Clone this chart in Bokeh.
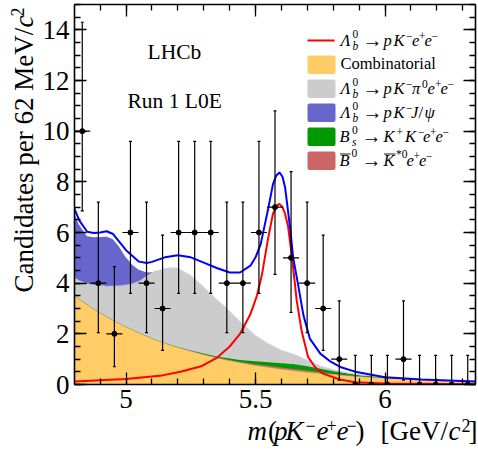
from math import pi

from bokeh.embed import file_html
from bokeh.models import Label, LinearAxis, Range1d, SingleIntervalTicker
from bokeh.plotting import figure
from bokeh.resources import INLINE

# data points, one per 62 MeV bin
bin_centres = [4.831, 4.893, 4.955, 5.017, 5.079, 5.141, 5.203, 5.265, 5.327, 5.389, 5.451, 5.513, 5.575,
               5.637, 5.699, 5.761, 5.823, 5.885, 5.947, 6.009, 6.071, 6.133, 6.195, 6.257, 6.319]
counts = [10, 4, 2, 6, 4, 3, 6, 6, 6, 4, 4, 6, 7, 5, 4, 3, 1, 0, 0, 0, 1, 0, 0, 0, 0]
err_low = {0: 0, 1: 0.83, 2: 1.3, 3: 1.65, 4: 1.95, 5: 2.15, 6: 2.4, 7: 2.65, 10: 3.15}
err_high = {0: 1.15, 1: 2.3, 2: 2.65, 3: 2.9, 4: 3.2, 5: 3.4, 6: 3.6, 7: 3.8, 10: 4.3}
bin_half = 0.031

# stacked components, cumulative tops
mass = [4.80, 4.82, 4.85, 4.875, 4.90, 4.925, 4.95, 4.975, 5.00, 5.025, 5.05, 5.08, 5.10, 5.125, 5.15, 5.175,
        5.20, 5.25, 5.30, 5.35, 5.40, 5.44, 5.50, 5.55, 5.60, 5.65, 5.70, 5.75, 5.80, 5.85, 5.90, 5.95, 6.00,
        6.10, 6.20, 6.35]
comb_top = [3.50, 3.36, 3.15, 2.98, 2.82, 2.67, 2.53, 2.40, 2.27, 2.15, 2.03, 1.90, 1.82, 1.72, 1.63, 1.54,
            1.46, 1.31, 1.17, 1.05, 0.94, 0.86, 0.75, 0.68, 0.60, 0.54, 0.48, 0.43, 0.39, 0.35, 0.31, 0.28, 0.25,
            0.20, 0.16, 0.12]
bd_top = [3.50, 3.36, 3.15, 2.98, 2.82, 2.67, 2.53, 2.40, 2.27, 2.15, 2.03, 1.90, 1.82, 1.72, 1.63, 1.54,
          1.465, 1.32, 1.19, 1.07, 0.97, 0.89, 0.80, 0.74, 0.67, 0.61, 0.55, 0.48, 0.42, 0.37, 0.32, 0.285, 0.25,
          0.20, 0.16, 0.12]
bs_top = [3.51, 3.37, 3.16, 2.99, 2.83, 2.68, 2.54, 2.41, 2.28, 2.16, 2.04, 1.91, 1.83, 1.73, 1.64, 1.56,
          1.48, 1.34, 1.22, 1.11, 1.03, 0.97, 0.92, 0.88, 0.84, 0.80, 0.72, 0.62, 0.52, 0.44, 0.37, 0.33, 0.28,
          0.21, 0.165, 0.12]
pi0_top = [4.23, 4.10, 3.98, 3.93, 3.92, 3.88, 3.89, 3.90, 3.93, 3.98, 4.08, 4.28, 4.42, 4.50, 4.57, 4.61,
           4.58, 4.30, 3.85, 3.35, 2.90, 2.48, 1.93, 1.60, 1.34, 1.18, 0.95, 0.72, 0.58, 0.47, 0.39, 0.34, 0.29,
           0.215, 0.17, 0.12]
jpsi_top = [6.83, 6.33, 5.88, 5.84, 5.85, 5.87, 5.76, 5.45, 5.05, 4.75, 4.55, 4.45, 4.46, 4.51, 4.58, 4.62,
            4.59, 4.31, 3.86, 3.36, 2.91, 2.49, 1.94, 1.61, 1.35, 1.19, 0.96, 0.73, 0.59, 0.48, 0.40, 0.35, 0.30,
            0.22, 0.175, 0.12]

# total fit and signal, as lines
total_mass = [4.80, 4.82, 4.85, 4.875, 4.90, 4.925, 4.95, 5.00, 5.05, 5.08, 5.10, 5.15, 5.20, 5.25, 5.30, 5.35,
              5.40, 5.44, 5.48, 5.50, 5.52, 5.55, 5.567, 5.58, 5.592, 5.604, 5.614, 5.633, 5.645, 5.66, 5.685,
              5.71, 5.75, 5.79, 5.83, 5.89, 6.00, 6.14, 6.35]
total_fit = [6.95, 6.47, 6.03, 5.98, 6.00, 6.05, 5.94, 5.30, 4.85, 4.80, 4.84, 5.02, 5.10, 5.02, 4.81, 4.60,
             4.42, 4.42, 4.69, 5.02, 5.55, 7.00, 7.90, 8.25, 8.37, 8.20, 7.78, 6.20, 5.02, 4.18, 2.72,
             1.80, 1.22, 0.90, 0.68, 0.49, 0.29, 0.20, 0.12]
signal_mass = [4.80, 5.00, 5.14, 5.21, 5.29, 5.35, 5.40, 5.44, 5.479, 5.505, 5.524, 5.548, 5.567, 5.58, 5.592,
               5.604, 5.614, 5.625, 5.64, 5.659, 5.678, 5.703, 5.73, 5.76, 5.826, 5.884, 6.00, 6.35]
signal = [0.12, 0.22, 0.36, 0.50, 0.72, 1.05, 1.50, 2.00, 2.75, 3.50, 4.30, 5.75, 6.73, 7.05, 7.13,
          7.00, 6.73, 6.27, 5.08, 3.30, 2.10, 1.08, 0.68, 0.43, 0.20, 0.09, 0.04, 0.01]

y_ticks_step = 2
x_ticks_step = 0.5

ORANGE = "#FFCC66"
GREY = "#CCCCCC"
BLUE = "#6666CC"
GREEN = "#009900"
PINK = "#CC6666"
FONT = "Liberation Serif"

LEFT, RIGHT, TOP, BOTTOM = 74, 475, 4, 384
x_min, x_max = 4.801, 6.349
y_min, y_max = 0, 15


def data_x(px):
    return x_min + (px - LEFT) * (x_max - x_min) / (RIGHT - LEFT)


def data_y(py):
    return y_max - (py - TOP) * (y_max - y_min) / (BOTTOM - TOP)


p = figure(width=478, height=450, output_backend="svg", toolbar_location=None,
           x_range=Range1d(x_min, x_max), y_range=Range1d(y_min, y_max), x_axis_type=None, y_axis_type=None,
           min_border_left=LEFT, min_border_right=478 - RIGHT, min_border_top=TOP, min_border_bottom=450 - BOTTOM,
           frame_width=RIGHT - LEFT, frame_height=BOTTOM - TOP, outline_line_color=None)
p.grid.visible = False


def make_axis(cls_place, step, minor, labels):
    axis = LinearAxis(ticker=SingleIntervalTicker(interval=step, num_minor_ticks=minor))
    axis.axis_line_color = "black"
    axis.axis_line_width = 1.6
    axis.major_tick_line_width = 1.3
    axis.minor_tick_line_width = 1.3
    axis.major_tick_in = 12
    axis.major_tick_out = 0
    axis.minor_tick_in = 6
    axis.minor_tick_out = 0
    axis.major_label_text_font = FONT
    axis.major_label_text_font_size = "27px"
    axis.major_label_text_color = "black"
    axis.major_label_standoff = 5
    if not labels:
        axis.major_label_text_font_size = "0px"
        axis.major_label_text_color = None
    p.add_layout(axis, cls_place)


make_axis("below", x_ticks_step, 5, True)
make_axis("above", x_ticks_step, 5, False)
make_axis("left", y_ticks_step, 4, True)
make_axis("right", y_ticks_step, 4, False)

# stack, back to front
p.varea(mass, 0, jpsi_top, fill_color=BLUE)
p.varea(mass, 0, pi0_top, fill_color=GREY)
p.varea(mass, 0, bs_top, fill_color=GREEN)
p.varea(mass, 0, bd_top, fill_color=PINK)
p.varea(mass, 0, comb_top, fill_color=ORANGE)
p.line(mass, jpsi_top, line_color="white", line_width=1.3)
p.line(mass, pi0_top, line_color="#B4B4DC", line_width=0.7)
p.line(mass, comb_top, line_color="#AAAA77", line_width=0.5)

p.line(signal_mass, signal, line_color="#FF0000", line_width=2)
p.line(total_mass, total_fit, line_color="#0000FF", line_width=2)

# data with errors
lows = [c - err_low[c] for c in counts]
highs = [c + err_high[c] for c in counts]
p.segment(bin_centres, lows, bin_centres, highs, line_color="black", line_width=1.2)
p.segment([b - bin_half for b in bin_centres], counts, [b + bin_half for b in bin_centres], counts,
          line_color="black", line_width=1.2)
p.scatter(bin_centres, highs, marker="dash", size=3, line_color="black", line_width=1.2)
p.scatter(bin_centres, lows, marker="dash", size=3, line_color="black", line_width=1.2)
p.scatter(bin_centres, counts, size=5, fill_color="black", line_color="black")

BASE_SHIFT = 0.36  # Label puts an alphabetic baseline this many ems too low


def put(px, py, text, size, style="normal", angle=0, side="center"):
    if angle:
        px -= BASE_SHIFT * size
    else:
        py -= BASE_SHIFT * size
    p.add_layout(Label(x=data_x(px), y=data_y(py), text=text, text_font=FONT, text_font_size=f"{size}px",
                       text_font_style=style, text_color="black", text_baseline="alphabetic", text_align="left",
                       angle=angle, angle_units="rad"), side)


put(147, 59, "LHCb", 21.5)
put(127, 108, "Run 1 L0E", 21.5)

# titles sit outside the frame, centre annotations would get clipped there
put(33, 292, "Candidates per 62 MeV/", 27, angle=pi / 2, side="below")
put(33, 27, "c", 27, "italic", angle=pi / 2, side="below")
put(23, 16, "2", 18, angle=pi / 2, side="below")

for px, py, text, size, style in [(247, 440, "m", 27, "italic"), (267.5, 440, "(", 27, "normal"),
                                  (273.5, 440, "p", 27, "italic"), (285, 440, "K", 27, "italic"),
                                  (305, 431, "\u2212", 18, "normal"), (316, 440, "e", 27, "italic"),
                                  (326, 431, "+", 18, "normal"), (336, 440, "e", 27, "italic"),
                                  (346, 431, "\u2212", 18, "normal"), (355, 440, ")", 27, "normal"),
                                  (380, 440, "[GeV/", 27, "normal"), (448, 440, "c", 27, "italic"),
                                  (461, 431, "2", 18, "normal"), (468, 440, "]", 27, "normal")]:
    put(px, py, text, size, style, side="below")

# legend
SWATCH_L, SWATCH_R = 307, 335
p.segment(data_x(SWATCH_L - 0), data_y(40), data_x(SWATCH_R - 1), data_y(40), line_color="#FF0000", line_width=2)
for top, colour in [(55, ORANGE), (79, GREY), (103, BLUE), (127, GREEN), (151, PINK)]:
    p.quad(left=data_x(SWATCH_L), right=data_x(SWATCH_R), top=data_y(top), bottom=data_y(top + 18.5),
           fill_color=colour, line_color=None, border_radius=2)


def lambda_head(base):
    put(340, base, "\u039b", 16.5, "italic")
    put(352, base - 8, "0", 11.5)
    put(352, base + 4, "b", 11.5, "italic")
    put(362, base + 1, "\u2192", 20)
    put(383, base, "p", 16.5, "italic")
    put(393, base, "K", 16.5, "italic")
    put(405.5, base - 6, "\u2212", 11.5)


lambda_head(46)
for px, py, text, size, style in [(411.5, 46, "e", 16.5, "italic"), (418.5, 40, "+", 11.5, "normal"),
                                  (424, 46, "e", 16.5, "italic"), (431, 40, "\u2212", 11.5, "normal")]:
    put(px, py, text, size, style)

put(340, 69, "Combinatorial", 16.5)

lambda_head(94)
for px, py, text, size, style in [(411.5, 94, "\u03c0", 16.5, "italic"), (421.5, 88, "0", 11.5, "normal"),
                                  (427, 94, "e", 16.5, "italic"), (434.5, 88, "+", 11.5, "normal"),
                                  (440, 94, "e", 16.5, "italic"), (447, 88, "\u2212", 11.5, "normal")]:
    put(px, py, text, size, style)

lambda_head(118)
for px, py, text, size, style in [(410.5, 118, "J", 16.5, "italic"), (418, 118, "/", 16.5, "normal"),
                                  (424, 118, "\u03c8", 16.5, "italic")]:
    put(px, py, text, size, style)

for px, py, text, size, style in [(339, 142, "B", 16.5, "italic"), (351.5, 134, "0", 11.5, "normal"),
                                  (351.5, 146, "s", 11.5, "italic"), (361, 143, "\u2192", 20, "normal"),
                                  (383, 142, "K", 16.5, "italic"), (396, 136, "+", 11.5, "normal"),
                                  (404.5, 142, "K", 16.5, "italic"), (417.5, 136, "\u2212", 11.5, "normal"),
                                  (422.5, 142, "e", 16.5, "italic"), (429.5, 136, "+", 11.5, "normal"),
                                  (435, 142, "e", 16.5, "italic"), (442, 136, "\u2212", 11.5, "normal")]:
    put(px, py, text, size, style)

for px, py, text, size, style in [(339, 166, "B", 16.5, "italic"), (351, 157, "0", 11.5, "normal"),
                                  (361, 167, "\u2192", 20, "normal"), (383, 166, "K", 16.5, "italic"),
                                  (395.5, 158, "*0", 11.5, "normal"), (406, 166, "e", 16.5, "italic"),
                                  (413, 160, "+", 11.5, "normal"), (418.5, 166, "e", 16.5, "italic"),
                                  (425.5, 160, "\u2212", 11.5, "normal")]:
    put(px, py, text, size, style)
p.segment([data_x(339.5), data_x(383.5)], [data_y(153.5), data_y(153.5)], [data_x(350), data_x(395)],
          [data_y(153.5), data_y(153.5)], line_color="black", line_width=0.9)

open("out.html", "w").write(file_html(p, INLINE))
